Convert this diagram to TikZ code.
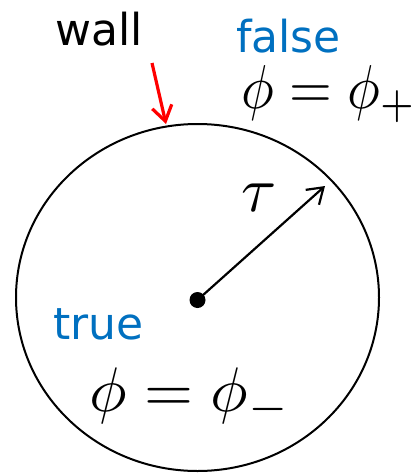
\documentclass[tikz,border=0pt]{standalone}
\usepackage{fontspec}
\usepackage{graphicx}
\newfontfamily\labelfont{DejaVu Sans}
\usetikzlibrary{arrows.meta,shapes.geometric}
\definecolor{lblblue}{HTML}{0070C0}
\definecolor{wallred}{HTML}{FF0000}
\tikzset{
  wordlabel/.style={inner sep=0pt, anchor=base west, font=\labelfont\fontsize{44}{50}\selectfont},
  mathlabel/.style={inner sep=0pt, anchor=base west},
  barb/.style={-{Straight Barb[length=15pt,width=20pt]}},
}
\begin{document}
\begin{tikzpicture}[x=1pt,y=-1pt]
\useasboundingbox (0,0) rectangle (414,474);
% wall circle
\node[draw, line width=2pt, ellipse, inner sep=0pt, minimum width=363pt, minimum height=347pt] (bubble) at (197.5,297.5) {};
% labels
\node[wordlabel] (wall) at (55,45) {wall};
\node[wordlabel, text=lblblue] (false) at (236,52) {false};
\node[mathlabel] (phiplus) at (241,108) {\scalebox{5.5}[6.2]{\fontsize{10}{12}\selectfont$\phi=\phi_+$}};
\node[wordlabel, text=lblblue] (true) at (53,339) {true};
\node[mathlabel] (phiminus) at (89,411) {\scalebox{6.3}{\fontsize{10}{12}\selectfont$\phi=\phi_-$}};
\node[inner sep=0pt, anchor=base] (tau) at (259,211) {\scalebox{6.4}{\fontsize{10}{12}\selectfont$\tau$}};
% centre dot and radius arrow
\node[circle, fill=black, inner sep=0pt, minimum size=16pt] (dot) at (197.5,300) {};
\coordinate (radtip) at (325,186);
\draw[barb, line width=2.2pt] (dot.center) -- (radtip);
% wall pointer
\coordinate (wallfrom) at (152,63);
\coordinate (walltip) at (166,124);
\draw[barb, line width=3.2pt, wallred] (wallfrom) -- (walltip);
\end{tikzpicture}
\end{document}
